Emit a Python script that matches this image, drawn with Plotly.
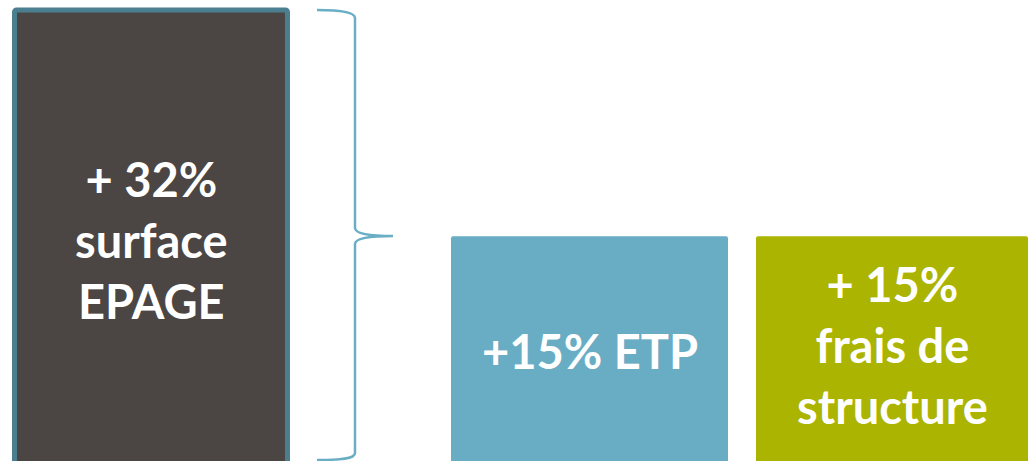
import plotly.graph_objects as go

# ---- data ----
categories = ["surface EPAGE", "ETP", "frais de structure"]
values = [32, 15, 15]
labels = ["+ 32%<br>surface<br>EPAGE", "+15% ETP", "+ 15%<br>frais de<br>structure"]

# ---- layout / style ----
W, H = 1030, 461
x_pos = [151, 589.5, 892]
bar_w = [273, 277, 272]
fills = ["#4b4644", "#69adc5", "#abb400"]
line_cols = ["#4b7f90", "#69adc5", "#abb400"]
line_ws = [5, 0, 0]
base_val = -4
y_range = [-1.9, 32.75]
text_y = [240, 351, 345]  # pixel centres of labels
font_family = "Lato, 'Open Sans', sans-serif"
font_size = 47

fig = go.Figure()
for i in range(len(categories)):
    fig.add_trace(go.Bar(
        x=[x_pos[i]], y=[values[i] - base_val], base=[base_val], width=[bar_w[i]],
        name=categories[i],
        marker=dict(color=fills[i], line=dict(color=line_cols[i], width=line_ws[i]),
                    cornerradius=2),
        hoverinfo="name",
    ))
    fig.add_annotation(
        x=x_pos[i], xref="x", y=1 - text_y[i] / H, yref="paper",
        text=labels[i], showarrow=False,
        font=dict(family=font_family, size=font_size, color="white", weight="bold"),
        align="center", xanchor="center", yanchor="middle",
    )

# brace
def py(p):
    return 1 - p / H

brace = (
    f"M 317 {py(10)} C 340 {py(10)}, 355 {py(12)}, 355 {py(18)} "
    f"L 355 {py(228)} C 355 {py(234)}, 370 {py(236)}, 393 {py(236)} "
    f"C 370 {py(236)}, 355 {py(238)}, 355 {py(244)} "
    f"L 355 {py(453)} C 355 {py(459)}, 340 {py(460)}, 317 {py(460)}"
)
fig.add_shape(type="path", path=brace, xref="x", yref="paper",
              line=dict(color="#6aaec6", width=2.5))

fig.update_layout(
    width=W, height=H,
    margin=dict(l=0, r=0, t=0, b=0),
    paper_bgcolor="white", plot_bgcolor="white",
    showlegend=False, barmode="overlay",
    xaxis=dict(range=[0, W], visible=False, fixedrange=True),
    yaxis=dict(range=y_range, visible=False, fixedrange=True),
)

fig.write_html("out.html", config={"displayModeBar": False},
               post_script="document.body.style.margin='0';document.body.style.overflow='hidden';")
